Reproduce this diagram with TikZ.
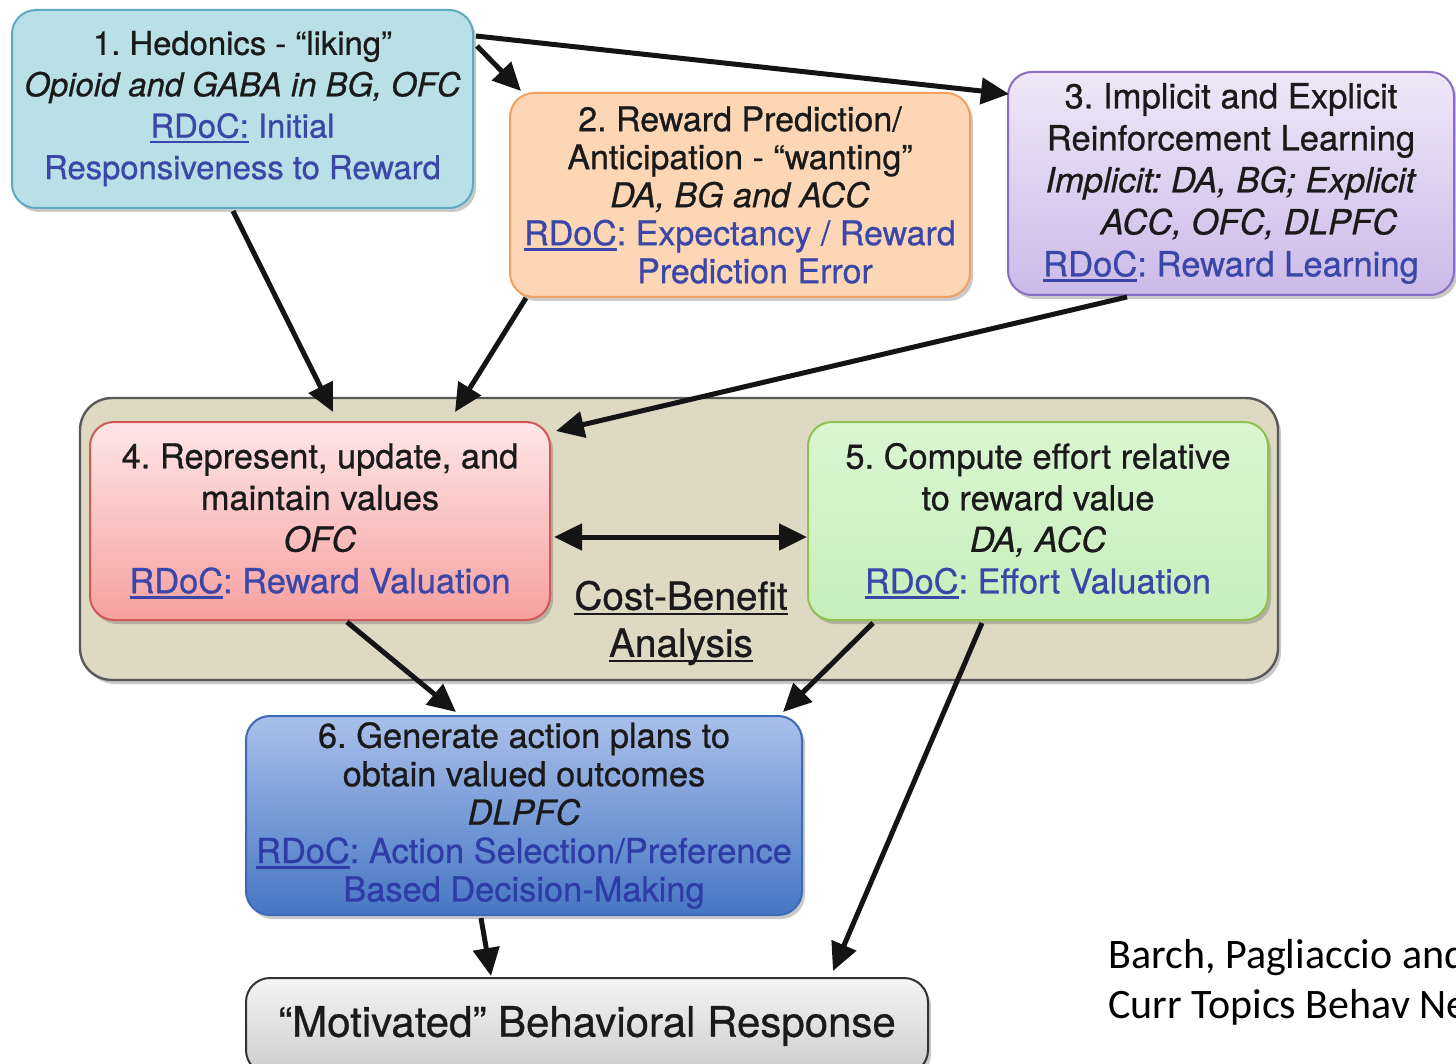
\documentclass[tikz,border=0pt]{standalone}
\usepackage{fontspec}
\setmainfont{TeX Gyre Heros}[FakeBold=0.7]
\newfontfamily\citefont{Carlito}
\usetikzlibrary{arrows.meta,shadows,calc}
\definecolor{rdoc}{HTML}{3B47A8}
\definecolor{rdocb}{HTML}{2F3CA8}
\definecolor{txt}{HTML}{1A1A1A}
\definecolor{contfill}{HTML}{DDD9C3}
\definecolor{b1fill}{HTML}{B9DFE7}
\definecolor{b1line}{HTML}{5FA9C0}
\newcommand\myul[1]{\setbox0\hbox{#1}\rlap{\rule[-2.8pt]{\wd0}{1.3pt}}\box0\relax}
\frenchspacing
\tikzset{
  box/.style={rounded corners=12pt, draw, line width=1pt, align=center, inner sep=0pt,
    text=txt, font=\fontsize{17}{20.5}\selectfont,
    drop shadow={shadow xshift=1.5pt, shadow yshift=-2pt, opacity=0.35, fill=black!60}},
  arr/.style={line width=2.5pt, draw=black!92, -{Triangle[length=14pt,width=13pt]}},
  darr/.style={line width=2.5pt, draw=black!92, {Triangle[length=14pt,width=13pt]}-{Triangle[length=14pt,width=13pt]}},
}
\begin{document}
\begin{tikzpicture}[x=0.5pt,y=-0.5pt]
\useasboundingbox (0,0) rectangle (1456,1064);
\clip (0,0) rectangle (1456,1064);
\fill[white] (0,0) rectangle (1456,1064);

% container
\node[box, draw=black!65, line width=1.2pt, rounded corners=16pt, fill=contfill,
  minimum width=599pt, minimum height=141pt] (cont) at (679,539) {};

% boxes
\node[box, draw=b1line, fill=b1fill,
  minimum width=230.5pt, minimum height=99pt, font=\fontsize{16.4}{20.7}\selectfont] (b1) at (242.5,109)
  {1. Hedonics - “liking”\\ \textit{Opioid and GABA in BG, OFC}\\
   \textcolor{rdoc}{\myul{RDoC:} Initial}\\ \textcolor{rdoc}{Responsiveness to Reward}\rule[-4pt]{0pt}{1pt}};

\node[box, draw={rgb,255:red,240;green,160;blue,96}, fill={rgb,255:red,252;green,214;blue,181},
  minimum width=230pt, minimum height=102pt, font=\fontsize{17}{19}\selectfont] (b2) at (740,195)
  {2. Reward Prediction/\\ Anticipation - “wanting”\\ \textit{DA, BG and ACC}\\
   \textcolor{rdoc}{\myul{RDoC}: Expectancy / Reward}\\ \textcolor{rdoc}{\hspace*{15pt}Prediction Error}};

\node[box, draw={rgb,255:red,138;green,108;blue,192}, top color={rgb,255:red,238;green,232;blue,248},
  bottom color={rgb,255:red,203;green,186;blue,232},
  minimum width=223pt, minimum height=111.5pt, font=\fontsize{17.3}{21}\selectfont] (b3) at (1231,183.5)
  {3. Implicit and Explicit\\ Reinforcement Learning\\ \textit{Implicit: DA, BG; Explicit}\\
   \textit{\hspace*{18pt}ACC, OFC, DLPFC}\\ \textcolor{rdoc}{\myul{RDoC}: Reward Learning}};

\node[box, draw={rgb,255:red,208;green,88;blue,88}, top color={rgb,255:red,253;green,230;blue,230},
  bottom color={rgb,255:red,247;green,160;blue,160},
  minimum width=230pt, minimum height=99pt, font=\fontsize{17.2}{20.8}\selectfont] (b4) at (320,521)
  {4. Represent, update, and\\ maintain values\\ \textit{OFC}\\
   \textcolor{rdoc}{\myul{RDoC}: Reward Valuation}};

\node[box, draw={rgb,255:red,144;green,192;blue,80}, top color={rgb,255:red,218;green,246;blue,210},
  bottom color={rgb,255:red,200;green,238;blue,188},
  minimum width=230pt, minimum height=99pt, font=\fontsize{17.2}{20.8}\selectfont] (b5) at (1038,521)
  {5. Compute effort relative\\ to reward value\\ \textit{DA, ACC}\\
   \textcolor{rdoc}{\myul{RDoC}: Effort Valuation}};

\node[box, draw={rgb,255:red,58;green,106;blue,184}, top color={rgb,255:red,170;green,192;blue,234},
  bottom color={rgb,255:red,70;green,118;blue,196},
  minimum width=278pt, minimum height=99.5pt, font=\fontsize{17.2}{19.2}\selectfont] (b6) at (524,815.5)
  {6. Generate action plans to\\ obtain valued outcomes\\ \textit{DLPFC}\\
   \textcolor{rdocb}{\myul{RDoC}: Action Selection/Preference}\\ \textcolor{rdocb}{Based Decision-Making}};

\node[box, draw=black!80, top color=black!4, bottom color=black!20,
  minimum width=341pt, minimum height=48pt, font=\fontsize{21}{24}\selectfont] (b7) at (587,1026)
  {“Motivated” Behavioral Response};

% cost-benefit label
\node[text=txt, align=center, font=\fontsize{19.4}{23.5}\selectfont] (cb) at (681,623)
  {\myul{Cost-Benefit}\\ \myul{Analysis}};

% citation (cut off at the right edge, as in the source)
\node[anchor=base west, inner sep=0pt, font=\citefont\fontsize{21}{25}\selectfont] (cit1) at (1108,968) {Barch, Pagliaccio and};
\node[anchor=base west, inner sep=0pt, font=\citefont\fontsize{21}{25}\selectfont] (cit2) at (1108,1018) {Curr Topics Behav Neurosci};

% connectors
\draw[arr] ($(b1.north east)+(2,27)$) -- ($(b3.north west)+(2,23)$);
\draw[arr] ($(b1.north east)+(3,37)$) -- ($(b2.north west)+(12,-1)$);
\draw[arr] ($(b1.south)+(-9.5,2)$) -- ($(b4.north)+(13,-9)$);
\draw[arr] ($(b2.south west)+(17,0)$) -- ($(b4.north)+(135,-9)$);
\draw[arr] ($(b3.south)+(-104,1)$) -- ($(b4.north east)+(5,10)$);
\draw[darr] ($(b4.east)+(3,16)$) -- ($(b5.west)+(0,16)$);
\draw[arr] ($(b4.south)+(27,1)$) -- ($(b6.north)+(-68,-3)$);
\draw[arr] ($(b5.south)+(-165,2)$) -- ($(b6.north east)+(-20,-3)$);
\draw[arr] ($(b5.south)+(-56,2)$) -- ($(b7.north east)+(-96,-6)$);
\draw[arr] ($(b6.south)+(-43,2)$) -- ($(b7.north)+(-96,-1)$);
\end{tikzpicture}
\end{document}
